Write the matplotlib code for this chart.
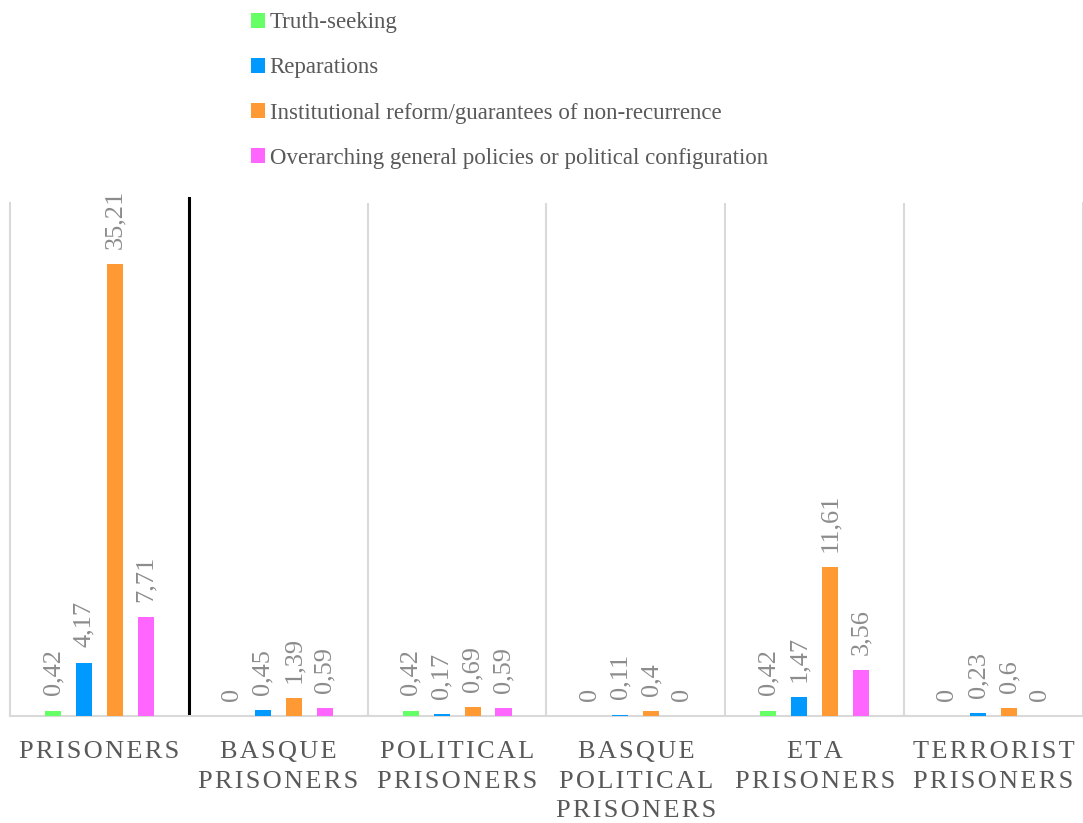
import numpy as np
import matplotlib.pyplot as plt
from matplotlib.patches import Patch

plt.rcParams['font.family'] = ['Liberation Serif', 'DejaVu Serif']

categories = ["PRISONERS", "BASQUE\nPRISONERS", "POLITICAL\nPRISONERS",
              "BASQUE\nPOLITICAL\nPRISONERS", "ETA\nPRISONERS",
              "TERRORIST\nPRISONERS"]
series = ["Truth-seeking", "Reparations",
          "Institutional reform/guarantees of non-recurrence",
          "Overarching general policies or political configuration"]
truth_seeking = [0.42, 0, 0.42, 0, 0.42, 0]
reparations = [4.17, 0.45, 0.17, 0.11, 1.47, 0.23]
institutional = [35.21, 1.39, 0.69, 0.4, 11.61, 0.6]
overarching = [7.71, 0.59, 0.59, 0, 3.56, 0]
colors = ["#66FF66", "#0099FF", "#FF9933", "#FF66FF"]

values = [truth_seeking, reparations, institutional, overarching]


def spaced(label):
    # letter-spaced uppercase tick labels
    return "\n".join("\u200a".join(line) for line in label.split("\n"))


fig = plt.figure(figsize=(10.83, 8.23), dpi=100)
ax = fig.add_axes([10 / 1083, 1 - 716 / 823, 1073 / 1083, 513 / 823])

x = np.arange(len(categories))
step = 0.173
width = 0.09
for i, (vals, col) in enumerate(zip(values, colors)):
    pos = x + (i - 1.5) * step
    ax.bar(pos, vals, width, color=col, zorder=3)
    for px, v in zip(pos, vals):
        ax.annotate(f"{v:g}".replace(".", ","), (px, v), xytext=(0, 11),
                    textcoords="offset points", rotation=90,
                    ha="center", va="bottom", fontsize=19, color="#8c8c8c")

ax.set_xlim(-0.5, len(categories) - 0.5)
ax.set_ylim(0, 40)

# category separators
for b in np.arange(1.5, len(categories) - 0.5):
    ax.axvline(b, color="#d9d9d9", lw=1.5, zorder=1)
ax.axvline(0.5, ymin=0.005, ymax=1.01, color="black", lw=2.2, zorder=4,
           clip_on=False)

ax.spines["top"].set_visible(False)
for s in ["left", "right", "bottom"]:
    ax.spines[s].set_color("#d9d9d9")
    ax.spines[s].set_linewidth(1.5)

ax.set_yticks([])
ax.set_xticks(x)
ax.set_xticklabels([spaced(c) for c in categories], fontsize=19,
                   color="#595959", linespacing=1.45)
ax.tick_params(axis="x", length=0, pad=18)

handles = [Patch(facecolor=c, edgecolor="none") for c in colors]
fig.legend(handles, series, loc="upper left", bbox_to_anchor=(0.213, 1.01),
           frameon=False, fontsize=16.5, labelcolor="#595959",
           handlelength=0.6, handleheight=0.6, handletextpad=0.2,
           labelspacing=1.05)

fig.savefig("out.png", dpi=100)
